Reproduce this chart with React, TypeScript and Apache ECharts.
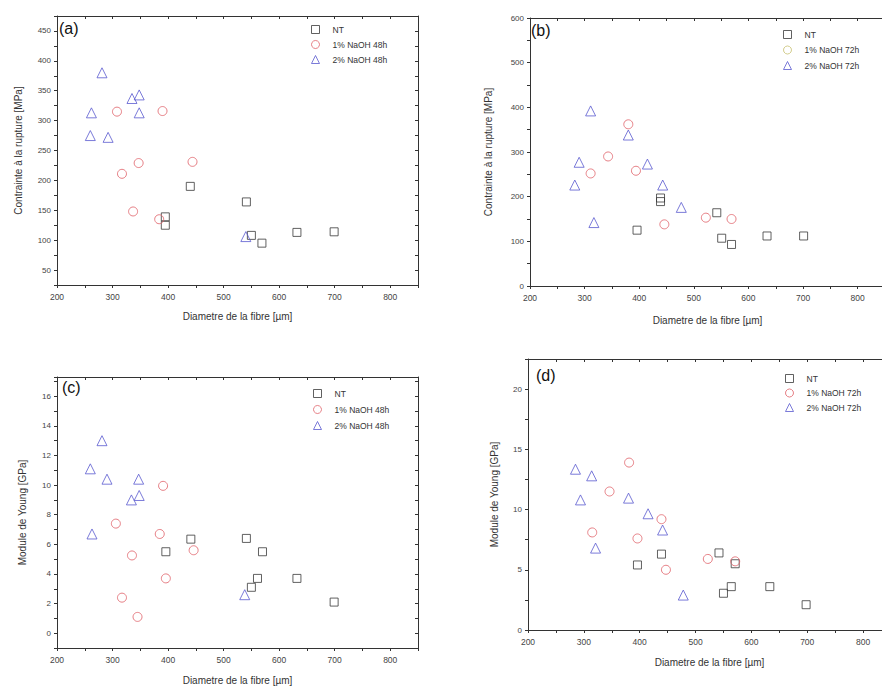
import React, { useEffect, useRef } from "react";
import * as echarts from "echarts";

// ---- data (diameter µm, value) ----
const ntA = [[440, 190], [541, 164], [550, 108], [569, 95], [632, 113], [699, 114], [395, 139], [395, 125]];
const naoh1h48A = [[308, 315], [390, 316], [347, 229], [317, 211], [444, 231], [337, 148], [384, 135]];
const naoh2h48A = [[281, 380], [262, 313], [260, 275], [292, 272], [335, 337], [348, 343], [348, 313], [540, 106]];

const ntB = [[396, 125], [439, 197], [439, 189], [542, 164], [551, 107], [569, 93], [634, 112], [701, 112]];
const naoh1h72B = [[380, 362], [343, 290], [311, 252], [394, 258], [446, 138], [522, 153], [569, 150]];
const naoh2h72B = [[311, 392], [380, 338], [290, 277], [282, 226], [415, 273], [443, 226], [477, 176], [317, 142]];

const ntC = [[396, 5.5], [441, 6.35], [541, 6.4], [570, 5.5], [561, 3.7], [550, 3.1], [632, 3.7], [699, 2.1]];
const naoh1h48C = [[391, 9.95], [306, 7.4], [385, 6.7], [446, 5.6], [335, 5.25], [396, 3.7], [317, 2.4], [345, 1.1]];
const naoh2h48C = [[281, 13.0], [260, 11.1], [290, 10.4], [347, 10.4], [334, 9.0], [348, 9.3], [263, 6.7], [538, 2.6]];

const ntD = [[396, 5.4], [439, 6.3], [542, 6.4], [550, 3.05], [564, 3.6], [571, 5.5], [633, 3.6], [698, 2.1]];
const naoh1h72D = [[381, 13.9], [346, 11.5], [315, 8.1], [396, 7.6], [439, 9.2], [447, 5.0], [522, 5.9], [571, 5.7]];
const naoh2h72D = [[285, 13.35], [314, 12.8], [294, 10.8], [380, 10.95], [415, 9.65], [441, 8.3], [321, 6.8], [478, 2.9]];

const panelLabels = ["(a)", "(b)", "(c)", "(d)"];
const xTitle = "Diametre de la fibre [µm]";
const yTitles = ["Contrainte à la rupture [MPa]", "Contrainte à la rupture [MPa]", "Module de Young [GPa]", "Module de Young [GPa]"];
// y ranges: [min, max, tickStep, labelStep]
const yRanges = [[25, 475, 25, 50], [0, 600, 50, 100], [-1, 17.3, 1, 2], [0, 22.5, 2.5, 5]];
const xRange = [200, 850, 50, 100];

const FONT = "Liberation Sans, Arial, sans-serif";
const AX = "#333";
const C_NT = "#3a3a3a";
const C_1 = "#e06068";
const C_2 = "#5a5ad0";

export default function App() {
  const ref = useRef<HTMLDivElement>(null);
  useEffect(() => {
    if (!ref.current) return;
    const chart = echarts.init(ref.current, null, { renderer: "svg" });

    const grids = [
      { left: 57, top: 16, width: 361, height: 269 },
      { left: 530, top: 18, width: 355, height: 268 },
      { left: 57, top: 377, width: 361, height: 271 },
      { left: 528, top: 359, width: 363, height: 271 },
    ].map((g) => ({ ...g, outerBoundsMode: "none", containLabel: false, show: false }));

    const yNameGap = [34, 37, 30, 29];
    const xNameGap = [26, 29, 27, 27];

    const xAxis: any[] = [];
    const yAxis: any[] = [];
    for (let i = 0; i < 4; i++) {
      const [ymin, ymax, ystep, ylab] = yRanges[i];
      xAxis.push({
        type: "value", gridIndex: i, position: "bottom",
        min: xRange[0], max: xRange[1], interval: xRange[2],
        name: xTitle, nameLocation: "middle", nameGap: xNameGap[i],
        nameTextStyle: { fontSize: 10, color: AX, fontFamily: FONT },
        axisLine: { show: true, onZero: false, lineStyle: { color: AX, width: 1 } },
        axisTick: { show: true, inside: false, length: 3, lineStyle: { color: AX } },
        axisLabel: {
          fontSize: 8.5, color: "#444", fontFamily: FONT, margin: 7,
          formatter: (v: number) => (Math.abs(v % xRange[3]) < 1e-6 && v < 850 ? String(v) : ""),
        },
        splitLine: { show: false },
      });
      xAxis.push({
        type: "value", gridIndex: i, position: "top",
        min: xRange[0], max: xRange[1], interval: xRange[2],
        axisLine: { show: true, onZero: false, lineStyle: { color: AX, width: 1 } },
        axisTick: { show: true, inside: true, length: 3, lineStyle: { color: AX } },
        axisLabel: { show: false },
        splitLine: { show: false },
      });
      yAxis.push({
        type: "value", gridIndex: i, position: "left",
        min: ymin, max: ymax, interval: ystep,
        name: yTitles[i], nameLocation: "middle", nameGap: yNameGap[i],
        nameTextStyle: { fontSize: 10, color: AX, fontFamily: FONT },
        axisLine: { show: true, onZero: false, lineStyle: { color: AX, width: 1 } },
        axisTick: { show: true, inside: false, length: 3, lineStyle: { color: AX } },
        axisLabel: {
          fontSize: 8, color: "#444", fontFamily: FONT, margin: 6,
          formatter: (v: number) => {
            const r = v / ylab;
            return Math.abs(r - Math.round(r)) < 1e-6 ? String(v) : "";
          },
        },
        splitLine: { show: false },
      });
      yAxis.push({
        type: "value", gridIndex: i, position: "right",
        min: ymin, max: ymax, interval: ystep,
        axisLine: { show: true, onZero: false, lineStyle: { color: AX, width: 1 } },
        axisTick: { show: true, inside: true, length: 3, lineStyle: { color: AX } },
        axisLabel: { show: false },
        splitLine: { show: false },
      });
    }

    const mk = (name: string, data: number[][], i: number, symbol: string, size: number, color: string) => ({
      type: "scatter", name, data, xAxisIndex: 2 * i, yAxisIndex: 2 * i,
      symbol, symbolSize: size,
      itemStyle: { color: "rgba(0,0,0,0)", borderColor: color, borderWidth: 1 },
      emphasis: { disabled: true },
    });

    const series = [
      mk("NT", ntA, 0, "rect", 8, C_NT),
      mk("1% NaOH 48h", naoh1h48A, 0, "circle", 9, C_1),
      mk("2% NaOH 48h", naoh2h48A, 0, "triangle", 10, C_2),
      mk("NT", ntB, 1, "rect", 8, C_NT),
      mk("1% NaOH 72h", naoh1h72B, 1, "circle", 9, C_1),
      mk("2% NaOH 72h", naoh2h72B, 1, "triangle", 10, C_2),
      mk("NT", ntC, 2, "rect", 8, C_NT),
      mk("1% NaOH 48h", naoh1h48C, 2, "circle", 9, C_1),
      mk("2% NaOH 48h", naoh2h48C, 2, "triangle", 10, C_2),
      mk("NT", ntD, 3, "rect", 8, C_NT),
      mk("1% NaOH 72h", naoh1h72D, 3, "circle", 9, C_1),
      mk("2% NaOH 72h", naoh2h72D, 3, "triangle", 10, C_2),
    ];

    const lg = (data: any[], left: number, top: number, gap: number) => ({
      orient: "vertical", left, top, itemWidth: 8, itemHeight: 8, itemGap: gap,
      selectedMode: false, padding: 0,
      itemStyle: { borderWidth: 1 },
      textStyle: { fontSize: 8.5, color: "#333", fontFamily: FONT, padding: [0, 0, 0, 8] },
      data,
    });

    const legend = [
      lg(["NT", "1% NaOH 48h", "2% NaOH 48h"], 311, 25, 6),
      lg(["NT", { name: "1% NaOH 72h", itemStyle: { borderColor: "#c8c070", color: "rgba(0,0,0,0)", borderWidth: 1 } }, "2% NaOH 72h"], 783, 30, 6.5),
      lg(["NT", "1% NaOH 48h", "2% NaOH 48h"], 313, 389, 7),
      lg(["NT", "1% NaOH 72h", "2% NaOH 72h"], 785, 374, 5.5),
    ];

    const labelPos = [[59, 20], [531, 22], [62, 379], [536, 367]];
    const graphic = panelLabels.map((t, i) => ({
      type: "text", left: labelPos[i][0], top: labelPos[i][1],
      style: { text: t, fontSize: 16, fill: "#111", fontFamily: FONT },
    }));

    chart.setOption({
      animation: false,
      backgroundColor: "#fff",
      grid: grids,
      xAxis,
      yAxis,
      series,
      legend,
      graphic,
    } as any);
    return () => chart.dispose();
  }, []);
  return <div ref={ref} style={{ position: "absolute", left: 0, top: 0, width: 882, height: 687 }} />;
}
